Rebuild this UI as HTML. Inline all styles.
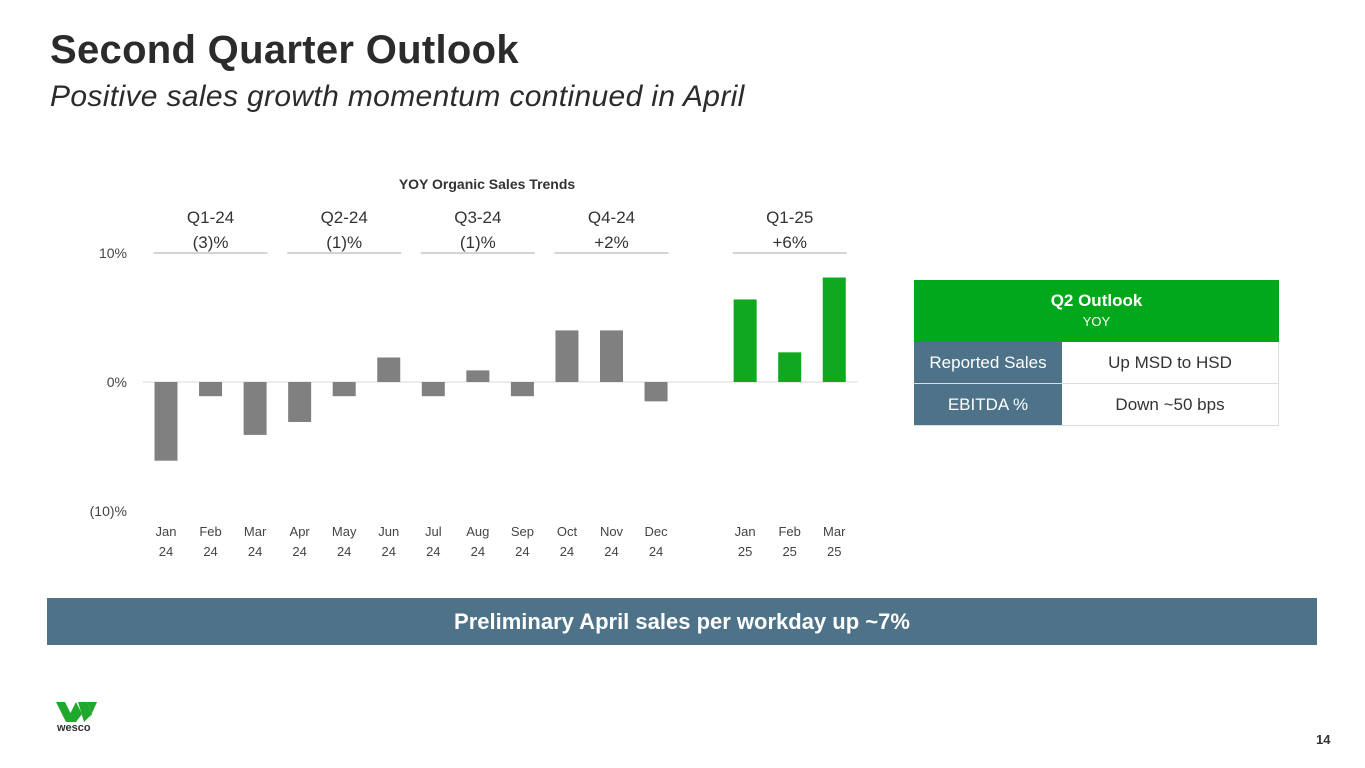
<!DOCTYPE html>
<html><head><meta charset="utf-8"><style>
body{margin:0;width:1365px;height:768px;background:#fff;font-family:"Liberation Sans",sans-serif;position:relative;overflow:hidden}
.abs{position:absolute}
</style></head><body>
<div class="abs" style="left:50px;top:28px;font-size:40px;font-weight:bold;color:#2b2b2b;letter-spacing:0.3px">Second Quarter Outlook</div>
<div class="abs" style="left:50px;top:80px;font-size:30px;font-style:italic;color:#2b2b2b;letter-spacing:0.35px">Positive sales growth momentum continued in April</div>
<svg class="abs" style="left:0;top:0" width="1365" height="768" id="chart">
<text x="487" y="189" text-anchor="middle" font-size="14" font-weight="bold" fill="#333">YOY Organic Sales Trends</text>
</svg>
<div class="abs" style="left:914px;top:280px;width:365px;font-size:17px">
<div style="background:#00a81a;color:#fff;text-align:center;height:62px;box-sizing:border-box;padding-top:11px"><b>Q2 Outlook</b><br><span style="font-size:13px">YOY</span></div>
<div style="display:flex;height:41px;border-bottom:1px solid #ddd"><div style="width:148px;background:#4e7287;color:#fff;text-align:center;line-height:41px">Reported Sales</div><div style="flex:1;text-align:center;line-height:41px;color:#333;border-right:1px solid #ddd">Up MSD to HSD</div></div>
<div style="display:flex;height:41px;border-bottom:1px solid #ddd"><div style="width:148px;background:#4e7287;color:#fff;text-align:center;line-height:41px">EBITDA %</div><div style="flex:1;text-align:center;line-height:41px;color:#333;border-right:1px solid #ddd">Down ~50 bps</div></div>
</div>
<div class="abs" style="left:47px;top:598px;width:1270px;height:47px;background:#4e7287;color:#fff;font-size:22px;font-weight:bold;text-align:center;line-height:47px">Preliminary April sales per workday up ~7%</div>
<svg class="abs" style="left:56px;top:702px" width="42" height="20">
<polygon points="0,0 9,0 15,12 10,20" fill="#1fa82c"/><polygon points="10,20 20,0 26,12 20,20" fill="#1fa82c"/><polygon points="22,0 31,0 36,12 28,20" fill="#1fa82c"/><polygon points="31,0 41,0 32,20 36,12" fill="#1fa82c"/>
</svg>
<div class="abs" style="left:57px;top:722px;font-size:11px;font-weight:bold;color:#333">wesco</div>
<div class="abs" style="left:1316px;top:732px;font-size:13px;font-weight:bold;color:#333">14</div>
<script>
const months=["Jan","Feb","Mar","Apr","May","Jun","Jul","Aug","Sep","Oct","Nov","Dec","Jan","Feb","Mar"];
const years=["24","24","24","24","24","24","24","24","24","24","24","24","25","25","25"];
const values=[-6.1,-1.1,-4.1,-3.1,-1.1,1.9,-1.1,0.9,-1.1,4.0,4.0,-1.5,6.4,2.3,8.1];
const slots=[0,1,2,3,4,5,6,7,8,9,10,11,13,14,15];
const quarterLabels=["Q1-24","Q2-24","Q3-24","Q4-24","Q1-25"];
const quarterValues=["(3)%","(1)%","(1)%","+2%","+6%"];
const quarterStart=[0,3,6,9,13];
const yTicks=[10,0,-10];
const yTickLabels=["10%","0%","(10)%"];
const NS="http://www.w3.org/2000/svg";
const svg=document.getElementById('chart');
const x=s=>166+s*44.55;
const y=v=>382-v*12.9;
function mk(t,a){const e=document.createElementNS(NS,t);for(const k in a)e.setAttribute(k,a[k]);svg.appendChild(e);return e;}
const zl=mk('line',{x1:143,x2:858,y1:y(0),y2:y(0),stroke:'#d9d9d9'});


yTicks.forEach((t,i)=>{const e=mk('text',{x:127,y:y(t)+5,'text-anchor':'end','font-size':14,fill:'#444'});e.textContent=yTickLabels[i];

});
values.forEach((v,i)=>{const s=slots[i];const r=mk('rect',{x:x(s)-11.5,width:23,y:Math.min(y(v),y(0)),height:Math.abs(y(v)-y(0)),fill:s>12?'#0fa81e':'#808080'});


const t1=mk('text',{x:x(s),y:536,'text-anchor':'middle','font-size':13,fill:'#444'});t1.textContent=months[i];


const t2=mk('text',{x:x(s),y:556,'text-anchor':'middle','font-size':13,fill:'#444'});t2.textContent=years[i];

});
quarterLabels.forEach((q,i)=>{const c=x(quarterStart[i]+1);
const a=mk('text',{x:c,y:223,'text-anchor':'middle','font-size':17,fill:'#333'});a.textContent=q;


const b=mk('text',{x:c,y:248,'text-anchor':'middle','font-size':17,fill:'#333'});b.textContent=quarterValues[i];


const l=mk('line',{x1:c-57,x2:c+57,y1:253,y2:253,stroke:'#aaa'});

});
</script>
</body></html>
